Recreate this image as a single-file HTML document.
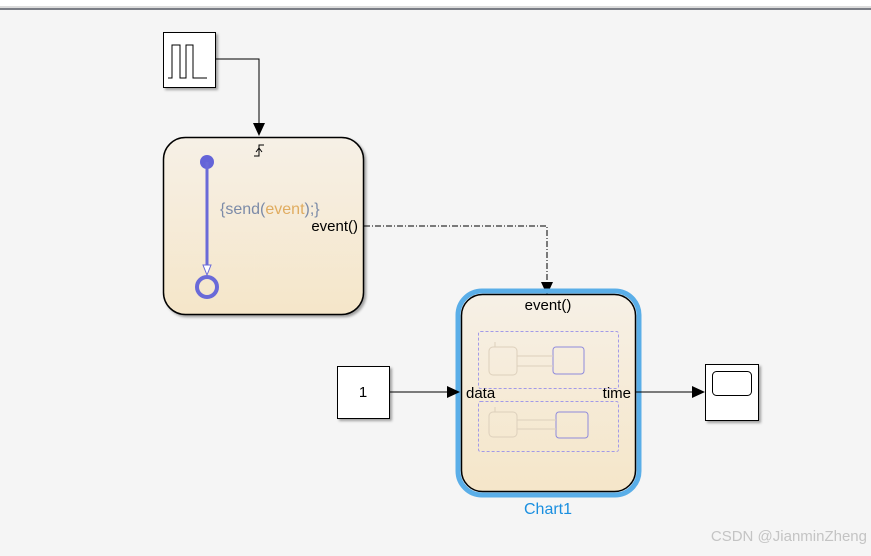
<!DOCTYPE html>
<html><head><style>
body{margin:0;width:871px;height:551px;overflow:hidden;background:#f5f5f5;font-family:"Liberation Sans",sans-serif;}
</style></head><body>
<svg width="871" height="551" xmlns="http://www.w3.org/2000/svg" font-family="Liberation Sans, sans-serif">
<defs>
<linearGradient id="g" x1="0" y1="0" x2="0" y2="1"><stop offset="0" stop-color="#f6f0e6"/><stop offset="1" stop-color="#f5e6c9"/></linearGradient>
<filter id="sh"><feDropShadow dx="2" dy="2" stdDeviation="1.2" flood-opacity="0.35"/></filter>
</defs>
<rect x="0" y="0" width="871" height="6" fill="#fff"/>
<rect x="0" y="6" width="871" height="2" fill="#dcdcdc"/>
<rect x="0" y="8" width="871" height="2" fill="#7a7d85"/>
<!-- pulse -->
<rect x="163.5" y="32.5" width="52" height="55" fill="#fff" stroke="#000" filter="url(#sh)"/>
<path d="M168 78H172V45H180V78H186V45H193V78H207" fill="none" stroke="#000" stroke-width="1"/>
<path d="M215 59H259V124" fill="none" stroke="#000"/>
<path d="M253 123L265 123L259 136Z" fill="#000"/>
<!-- chart state -->
<rect x="163.5" y="137.5" width="200" height="177" rx="22" fill="url(#g)" stroke="#000" stroke-width="1.5" filter="url(#sh)"/>
<path d="M254 156H259V145H264M259 148L256 152M259 148L262 152" fill="none" stroke="#000" stroke-width="1"/>
<circle cx="207" cy="162" r="7" fill="#6464d8"/>
<line x1="207" y1="162" x2="207" y2="272" stroke="#6a6ad8" stroke-width="3"/>
<path d="M203 265L211 265L207 275Z" fill="#fff" stroke="#6a6ad8"/>
<circle cx="207" cy="287" r="10" fill="none" stroke="#6a6ad8" stroke-width="4"/>
<text x="220" y="214" font-size="16" fill="#7c8ba8">{send(<tspan fill="#e0ac60">event</tspan>);}</text>
<text x="358" y="231" font-size="15" text-anchor="end">event()</text>
<path d="M364 226H547V283" fill="none" stroke="#000" stroke-dasharray="6,2,1,2"/>
<path d="M541 282L553 282L547 295Z" fill="#000"/>
<!-- chart1 -->
<rect x="458" y="291" width="181" height="204" rx="24" fill="none" stroke="#5aaee8" stroke-width="5"/>
<rect x="461.5" y="294.5" width="174" height="197" rx="21" fill="url(#g)" stroke="#000" stroke-width="1.5"/>
<text x="548" y="310" font-size="15" text-anchor="middle">event()</text>
<rect x="478.5" y="331.5" width="140" height="57" rx="2" fill="none" stroke="#a29ae8" stroke-dasharray="3,2"/>
<rect x="478.5" y="401.5" width="140" height="50" rx="2" fill="none" stroke="#a29ae8" stroke-dasharray="3,2"/>
<rect x="489" y="347" width="28" height="28" rx="4" fill="none" stroke="#ddd0bc"/>
<rect x="553" y="347" width="31" height="27" rx="3" fill="none" stroke="#8f8adc"/>
<path d="M517 356H553M517 366H553M495 342V347" stroke="#ddd0bc" fill="none"/>
<rect x="489" y="412" width="28" height="25" rx="4" fill="none" stroke="#ddd0bc"/>
<rect x="556" y="412" width="32" height="26" rx="3" fill="none" stroke="#8f8adc"/>
<path d="M517 420H556M517 429H556M495 407V412" stroke="#ddd0bc" fill="none"/>
<text x="466" y="398" font-size="15">data</text>
<text x="631" y="398" font-size="15" text-anchor="end">time</text>
<text x="548" y="514" font-size="16" fill="#1a8fe0" text-anchor="middle">Chart1</text>
<!-- const -->
<rect x="337.5" y="366.5" width="52" height="52" fill="#fff" stroke="#000" filter="url(#sh)"/>
<text x="363" y="397" font-size="15" text-anchor="middle">1</text>
<line x1="390" y1="392" x2="448" y2="392" stroke="#000"/>
<path d="M447 386L460 392L447 398Z" fill="#000"/>
<line x1="636" y1="392" x2="693" y2="392" stroke="#000"/>
<path d="M692 386L705 392L692 398Z" fill="#000"/>
<!-- scope -->
<rect x="705.5" y="364.5" width="53" height="56" fill="#fff" stroke="#000" filter="url(#sh)"/>
<rect x="712.5" y="371.5" width="39" height="24" rx="4" fill="none" stroke="#000"/>
<text x="867" y="541" font-size="15" fill="#c4c4c4" text-anchor="end">CSDN @JianminZheng</text>
</svg>
</body></html>
